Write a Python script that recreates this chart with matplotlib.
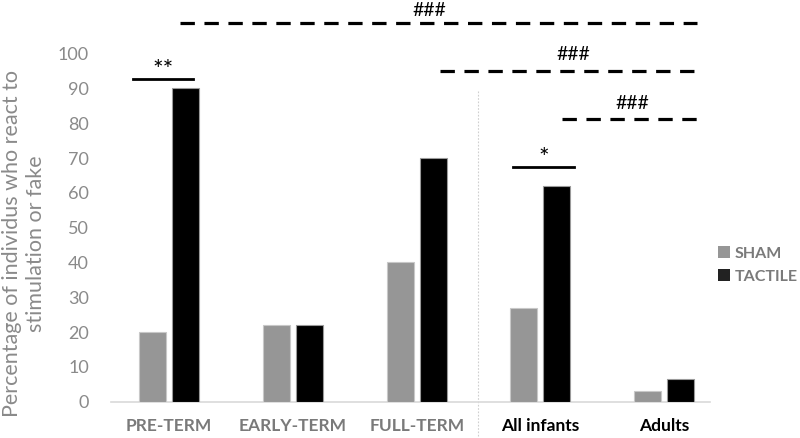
import matplotlib
matplotlib.use("Agg")
import matplotlib.pyplot as plt
from matplotlib.patches import Patch

plt.rcParams['font.family'] = ['Lato', 'DejaVu Sans']

categories = ["PRE-TERM", "EARLY-TERM", "FULL-TERM", "All infants", "Adults"]
sham = [20, 22, 40, 27, 3]
tactile = [90, 22, 70, 62, 6.5]
yticks = [0, 10, 20, 30, 40, 50, 60, 70, 80, 90, 100]

fig = plt.figure(figsize=(8, 4.38), dpi=100)
ax = fig.add_axes([111/800, (438-401.7)/438, (710-111)/800, 401.7/438])

x = list(range(len(categories)))
w = 0.218
off = 0.133
ax.bar([i - off for i in x], sham, width=w, color="#969696", edgecolor="#c8c8c8", linewidth=0.8, label="SHAM", zorder=3)
ax.bar([i + off for i in x], tactile, width=w, color="#000000", edgecolor="#9a9a9a", linewidth=0.8, label="TACTILE", zorder=3)

ax.set_xlim(-0.47, 4.37)
ax.set_ylim(0, 115.4)
ax.set_yticks(yticks)
ax.set_yticklabels([str(t) for t in yticks], fontsize=13, color="#8a8a8a")
ax.tick_params(axis='y', length=0, pad=16)
ax.set_xticks(x)
ax.set_xticklabels(categories, fontsize=12.5, fontweight='bold')
ax.tick_params(axis='x', length=0, pad=12)
for i, lab in enumerate(ax.get_xticklabels()):
    lab.set_color("#7a7a7a" if i < 3 else "#000000")

for s in ["top", "right", "left"]:
    ax.spines[s].set_visible(False)
ax.spines["bottom"].set_color("#d9d9d9")
ax.spines["bottom"].set_linewidth(1.2)

# significance annotations
dash = dict(color="black", linewidth=2.3, linestyle=(0, (4.5, 3.0)), clip_on=False)
ax.plot([0.089, 4.268], [108.9, 108.9], **dash)
ax.text(2.10, 112.3, "###", ha="center", va="center", fontsize=14, clip_on=False)
ax.plot([2.19, 4.317], [95.1, 95.1], **dash)
ax.text(3.266, 99.7, "###", ha="center", va="center", fontsize=14)
ax.plot([3.177, 4.277], [81.1, 81.1], **dash)
ax.text(3.743, 85.6, "###", ha="center", va="center", fontsize=14)

ax.plot([-0.293, 0.192], [92.6, 92.6], color="black", linewidth=2.0)
ax.text(-0.049, 95.2, "**", ha="center", va="center", fontsize=18)
ax.plot([2.781, 3.274], [67.4, 67.4], color="black", linewidth=2.0)
ax.text(3.023, 70.0, "*", ha="center", va="center", fontsize=18)

# separator
ax.plot([2.498, 2.498], [89.3, -11], color="#cfcfcf", linewidth=0.8, linestyle=(0, (1.5, 1.5)), clip_on=False)

fig.text(24/800, 1 - 243.5/438, "Percentage of individus who react to\nstimulation or fake",
         rotation=90, ha="center", va="center", fontsize=15.5, color="#8a8a8a",
         linespacing=1.3, multialignment="center")

handles = [Patch(facecolor="#969696", edgecolor="none"), Patch(facecolor="#222222", edgecolor="none")]
leg = fig.legend(handles, ["SHAM", "TACTILE"], loc="center left",
                 bbox_to_anchor=(718/800, 1 - 265/438), frameon=False,
                 borderaxespad=0, borderpad=0,
                 handlelength=0.75, handleheight=0.75, handletextpad=0.3,
                 labelspacing=0.55, prop={"weight": "bold", "size": 11.5})
for t in leg.get_texts():
    t.set_color("#7a7a7a")

fig.savefig("out.png", dpi=100)
